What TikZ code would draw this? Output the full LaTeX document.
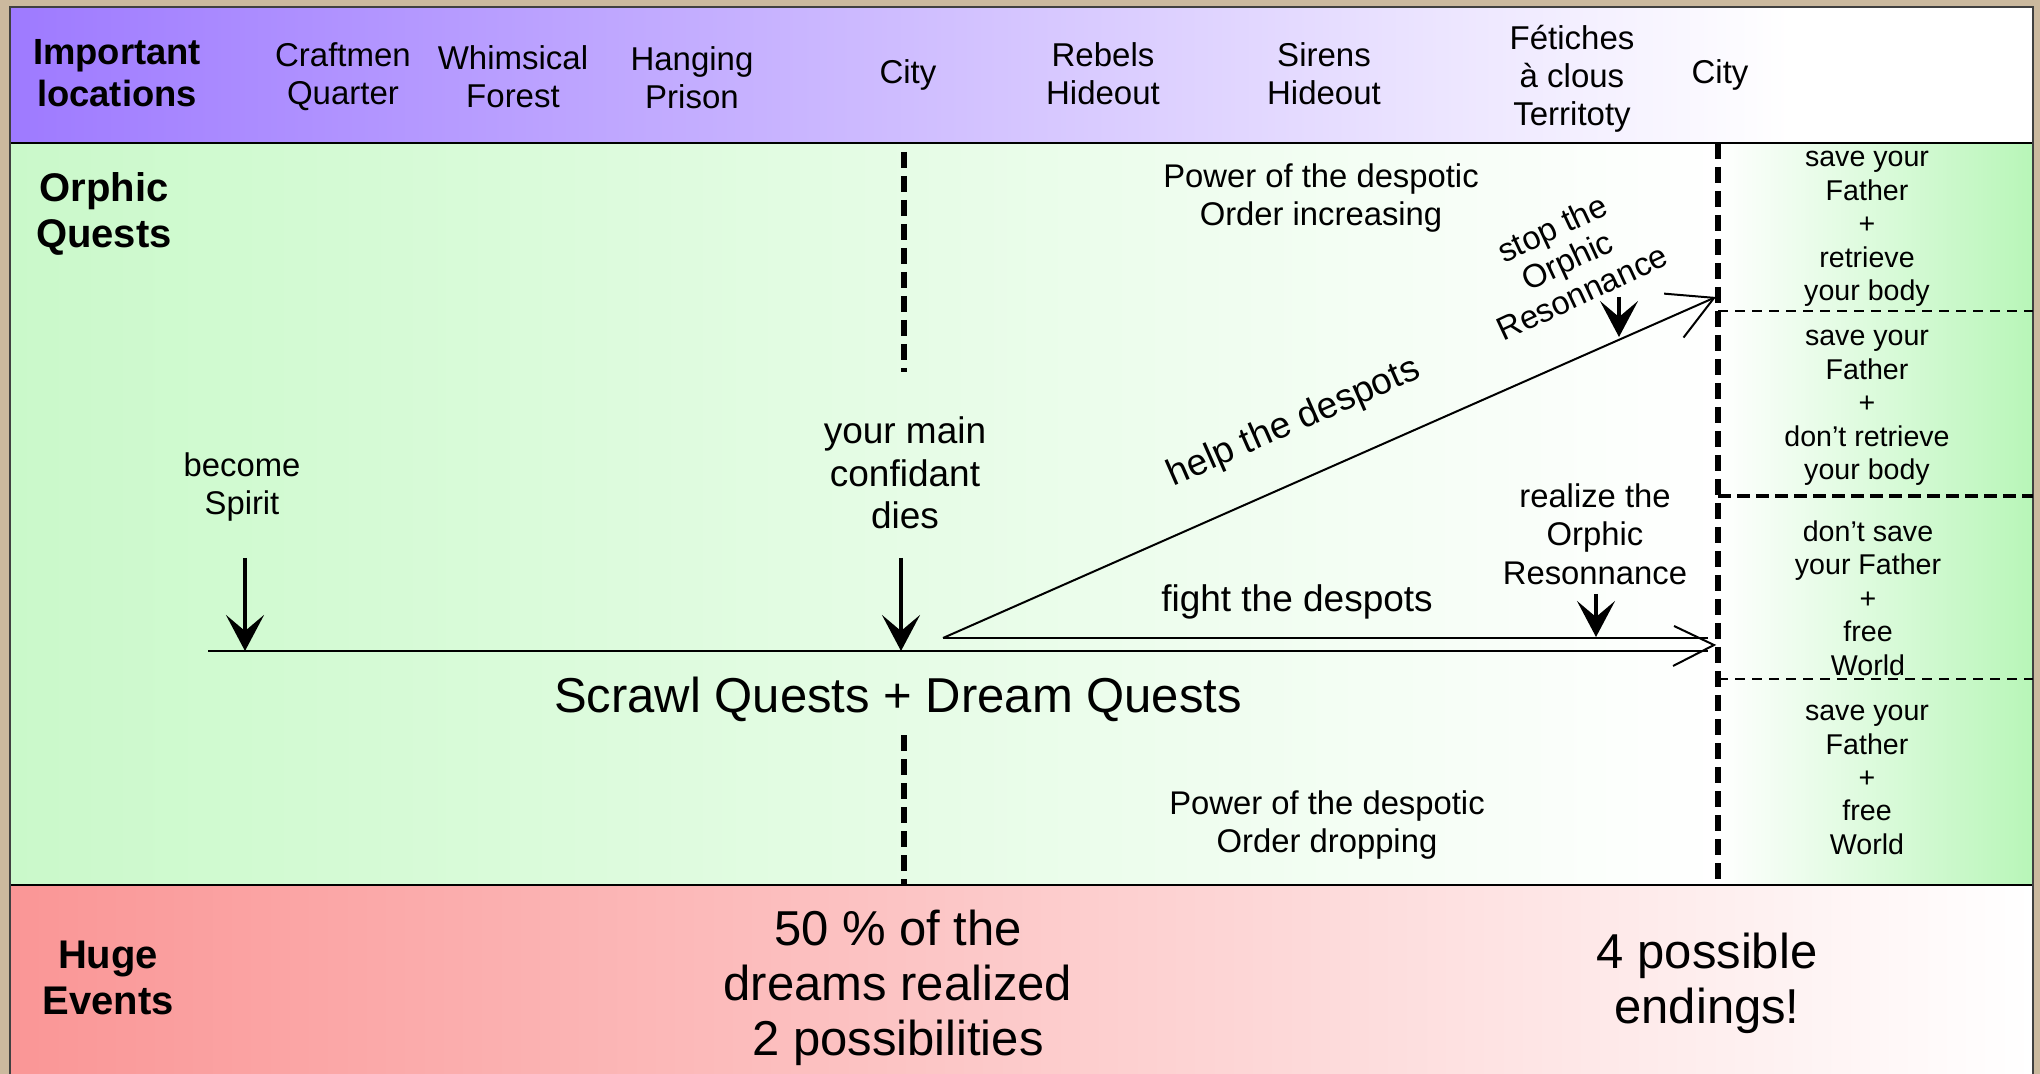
\documentclass[tikz,border=0pt]{standalone}
\usepackage{fontspec}
\setmainfont{Liberation Sans}
\usepackage{xcolor}
\usepackage{tikz}
\usetikzlibrary{arrows.meta,positioning}

\definecolor{frametan}{RGB}{203,185,158}
\definecolor{hdrpurple}{RGB}{158,122,255}
\definecolor{questgreen}{RGB}{202,249,202}
\definecolor{endgreen}{RGB}{184,246,184}
\definecolor{eventpink}{RGB}{250,150,150}

\begin{document}
\begin{tikzpicture}[x=0.5pt,y=-0.5pt,
    loc/.style={align=center,inner sep=0pt,font=\fontsize{16.5}{18.9}\selectfont},
    locbold/.style={align=center,inner sep=0pt,font=\bfseries\fontsize{18.2}{20.8}\selectfont},
    rowlbl/.style={align=center,inner sep=0pt,font=\bfseries\fontsize{20}{23}\selectfont},
    note/.style={align=center,inner sep=0pt,font=\fontsize{16.4}{18.9}\selectfont},
    mid/.style={align=center,inner sep=0pt,font=\fontsize{18.5}{21.2}\selectfont},
    big/.style={align=center,inner sep=0pt,font=\fontsize{24.5}{27.6}\selectfont},
    ending/.style={align=center,inner sep=0pt,font=\fontsize{14.3}{16.7}\selectfont},
    tline/.style={line width=1pt},
    evt/.style={-{Stealth[length=18pt,width=19pt,inset=8pt]},line width=1.7pt},
    openhead/.style={-{Straight Barb[length=22pt,width=24pt]},line width=1pt},
    bigdash/.style={line width=2.6pt,dash pattern=on 8pt off 4pt},
    middash/.style={line width=2pt,dash pattern=on 6.5pt off 3pt},
    thindash/.style={line width=0.7pt,dash pattern=on 5pt off 3.5pt}
  ]
    \useasboundingbox (0,0) rectangle (2040,1074);
    \fill[frametan] (0,0) rectangle (2040,1074);
    % bands
    \shade[left color=hdrpurple,right color=white] (10,7) rectangle (1790,143);
    \fill[white] (1790,7) rectangle (2033,143);
    \shade[left color=questgreen,right color=white] (10,143) rectangle (1718,885);
    \shade[left color=white,right color=endgreen] (1718,143) rectangle (2033,885);
    \shade[left color=eventpink,right color=white] (10,885) rectangle (2033,1074);
    \draw[line width=1pt] (10,143) -- (2033,143);
    \draw[line width=1pt] (10,885) -- (2033,885);
    \draw[line width=0.8pt,black!75] (10,1074) -- (10,7) -- (2033,7) -- (2033,1074);

    % locations
    \node[locbold] (implocs) at (117,73) {Important\\locations};
    \node[loc] (craftmen) at (343,76.5) {Craftmen\\Quarter};
    \node[loc] (whimsical) at (513,77) {Whimsical\\Forest};
    \node[loc] (hanging) at (692,78) {Hanging\\Prison};
    \node[loc] (city) at (908,75) {City};
    \node[loc] (rebels) at (1103,74) {Rebels\\Hideout};
    \node[loc] (sirens) at (1324,74) {Sirens\\Hideout};
    \node[loc] (fetiches) at (1572,78.5) {Fétiches\\à clous\\Territoty};
    \node[loc] (citylast) at (1720,75) {City};

    \node[rowlbl] (orphic) at (104,213.5) {Orphic\\Quests};
    \node[rowlbl] (huge) at (108,978) {Huge\\Events};

    % milestones
    \draw[bigdash] (904,152) -- (904,372);
    \draw[bigdash] (904,735) -- (904,885);
    \draw[bigdash] (1718,143) -- (1718,885);
    \draw[thindash] (1718,311) -- (2033,311);
    \draw[middash] (1718,496) -- (2033,496);
    \draw[thindash] (1718,679) -- (2033,679);

    % timeline
    \coordinate (tstart) at (208,651);
    \coordinate (fork) at (943,638);
    \coordinate (helpend) at (1716,297);
    \coordinate (fightend) at (1714,645);
    \draw[tline] (tstart) -- (1708,651);
    \draw[tline] (fork) -- (1708,638);
    \draw[tline] (fightend) ++(-40,-19) -- (fightend) -- ++(-41,21);
    \draw[openhead] (fork) -- (helpend);

    \node[note] (spirit) at (242,487) {become\\Spirit};
    \node[mid] (confidant) at (905,473) {your main\\confidant\\dies};
    \node[big] (scrawl) at (898,699) {Scrawl Quests + Dream Quests};
    \node[note] (powerup) at (1321,198) {Power of the despotic\\Order increasing};
    \node[note] (powerdown) at (1327,825) {Power of the despotic\\Order dropping};
    \node[mid,rotate=23.7] (help) at (1294,423) {help the despots};
    \node[mid] (fight) at (1297,602) {fight the despots};
    \node[note,rotate=25,font=\fontsize{16.4}{17.8}\selectfont] (stop) at (1567,260) {stop the\\Orphic\\Resonnance};
    \node[note,font=\fontsize{16.4}{19.2}\selectfont] (realize) at (1595,534) {realize the\\Orphic\\Resonnance};

    \draw[evt] (245,558) -- (tstart -| 245,0);
    \draw[evt] (901,558) -- (tstart -| 901,0);
    \draw[evt] (1619,297) -- (1619,337);
    \draw[evt] (1596,594) -- (1596,637);

    % endings
    \node[ending] (end1) at (1867,229) {save your\\Father\\+\\retrieve\\your body};
    \node[ending] (end2) at (1867,408) {save your\\Father\\+\\don't retrieve\\your body};
    \node[ending] (end3) at (1868,598) {don't save\\your Father\\+\\free\\World};
    \node[ending] (end4) at (1867,780) {save your\\Father\\+\\free\\World};

    \node[big] (dreams) at (898,988) {50 \% of the\\dreams realized\\2 possibilities};
    \node[big] (endings) at (1707,983) {4 possible\\endings!};
  \end{tikzpicture}
\end{document}
